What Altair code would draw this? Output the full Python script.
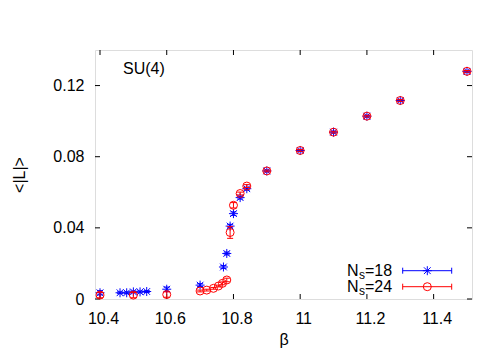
import altair as alt
import pandas as pd

# ---- data ----
beta_18 = [10.40, 10.46, 10.48, 10.50, 10.52, 10.54, 10.60, 10.70, 10.77, 10.78,
           10.79, 10.80, 10.82, 10.84, 10.90, 11.00, 11.10, 11.20, 11.30, 11.50]
L_18 = [0.0035, 0.0035, 0.0035, 0.0040, 0.0040, 0.0042, 0.0055, 0.0078, 0.0180, 0.0256,
        0.0410, 0.0480, 0.0570, 0.0620, 0.0720, 0.0835, 0.0938, 0.1028, 0.1116, 0.1280]
err_18 = [0.0012, 0.0005, 0.0005, 0.0005, 0.0005, 0.0005, 0.0012, 0.0008, 0.0008, 0.0008,
          0.0010, 0.0010, 0.0008, 0.0008, 0.0005, 0.0005, 0.0005, 0.0005, 0.0005, 0.0005]

beta_24 = [10.40, 10.50, 10.60, 10.70, 10.72, 10.74, 10.755, 10.767, 10.78, 10.79,
           10.80, 10.82, 10.84, 10.90, 11.00, 11.10, 11.20, 11.30, 11.50]
L_24 = [0.0022, 0.0022, 0.0025, 0.0045, 0.0050, 0.0060, 0.0073, 0.0088, 0.0107, 0.0374,
        0.0527, 0.0593, 0.0635, 0.0720, 0.0835, 0.0938, 0.1028, 0.1116, 0.1280]
err_24 = [0.0015, 0.0015, 0.0015, 0.0005, 0.0005, 0.0005, 0.0005, 0.0008, 0.0010, 0.0033,
          0.0015, 0.0008, 0.0008, 0.0005, 0.0005, 0.0005, 0.0005, 0.0005, 0.0005]

x_ticks = [10.4, 10.6, 10.8, 11.0, 11.2, 11.4]
y_ticks = [0.0, 0.04, 0.08, 0.12]

series_labels = ["18", "24"]
annotation = "SU(4)"

# ---- layout ----
W, H = 377, 249
X_DOMAIN = [10.385, 11.515]
Y_DOMAIN = [0.0, 0.14]
FONT = "Liberation Sans"
BLUE = "#0000ff"
RED = "#ff0000"
STAR = "M-1,0L1,0M0,-1L0,1M-0.75,-0.75L0.75,0.75M-0.75,0.75L0.75,-0.75"

df18 = pd.DataFrame({"beta": beta_18, "L": L_18, "err": err_18})
df24 = pd.DataFrame({"beta": beta_24, "L": L_24, "err": err_24})
dfx = pd.DataFrame({"v": x_ticks})
dfy = pd.DataFrame({"v": y_ticks})
one = alt.Data(values=[{}])

xs = alt.Scale(domain=X_DOMAIN, nice=False, zero=False)
ys = alt.Scale(domain=Y_DOMAIN, nice=False, zero=False)

xaxis = alt.Axis(values=x_ticks, format=".1~f", title="β", ticks=False, domain=False,
                 grid=False, labelPadding=11, labelOffset=3, labelFontSize=16,
                 labelFont=FONT, labelColor="black", titleFont=FONT, titleFontSize=16,
                 titleFontWeight="normal", titleColor="black", titleY=45,
                 titleBaseline="alphabetic")
yaxis = alt.Axis(values=y_ticks, labelExpr="datum.value == 0 ? '0' : format(datum.value, '.2f')",
                 title="<|L|>", ticks=False, domain=False, grid=False, labelPadding=11,
                 labelFontSize=16, labelFont=FONT, labelColor="black", titleFont=FONT,
                 titleFontSize=16, titleFontWeight="normal", titleColor="black",
                 titleX=-76, titleY=H / 2, titleAngle=-90, titleAlign="center",
                 titleBaseline="middle")

X = lambda f: alt.X(f, type="quantitative", scale=xs, axis=xaxis)
Y = lambda f: alt.Y(f, type="quantitative", scale=ys, axis=yaxis)


def series(df, color, shape, size):
    base = alt.Chart(df).transform_calculate(lo="datum.L - datum.err", hi="datum.L + datum.err")
    bar = base.mark_rule(color=color, strokeWidth=1).encode(x=X("beta"), y=Y("lo"), y2="hi:Q")
    cap_lo = base.mark_tick(orient="horizontal", size=6, thickness=1, color=color, opacity=1).encode(
        x=X("beta"), y=Y("lo"))
    cap_hi = base.mark_tick(orient="horizontal", size=6, thickness=1, color=color, opacity=1).encode(
        x=X("beta"), y=Y("hi"))
    pts = base.mark_point(shape=shape, size=size, filled=False, color=color, strokeWidth=1,
                          opacity=1).encode(x=X("beta"), y=Y("L"))
    return [bar, cap_lo, cap_hi, pts]


# inward ticks on all four sides
TL = 5
ticks = [
    alt.Chart(dfx).mark_rule(color="black").encode(x=X("v"), y=alt.value(H), y2=alt.value(H - TL)),
    alt.Chart(dfx).mark_rule(color="black").encode(x=X("v"), y=alt.value(0), y2=alt.value(TL)),
    alt.Chart(dfy).mark_rule(color="black").encode(y=Y("v"), x=alt.value(0), x2=alt.value(TL)),
    alt.Chart(dfy).mark_rule(color="black").encode(y=Y("v"), x=alt.value(W), x2=alt.value(W - TL)),
]


def legend_row(yc, num, color, shape, size):
    x0, x1, xm = 307.7, 356.7, 332.3
    out = [
        alt.Chart(one).mark_rule(color=color, strokeWidth=1).encode(
            x=alt.value(x0), x2=alt.value(x1), y=alt.value(yc)),
        alt.Chart(one).mark_rule(color=color, strokeWidth=1).encode(
            x=alt.value(x0), y=alt.value(yc - 3), y2=alt.value(yc + 3)),
        alt.Chart(one).mark_rule(color=color, strokeWidth=1).encode(
            x=alt.value(x1), y=alt.value(yc - 3), y2=alt.value(yc + 3)),
        alt.Chart(one).mark_point(shape=shape, size=size, filled=False, color=color,
                                  strokeWidth=1, opacity=1).encode(
            x=alt.value(xm), y=alt.value(yc)),
        alt.Chart(one).mark_text(font=FONT, fontSize=16, align="left", baseline="alphabetic",
                                 color="black").encode(
            x=alt.value(252), y=alt.value(yc + 5.5), text=alt.value("N")),
        alt.Chart(one).mark_text(font=FONT, fontSize=12, align="left", baseline="alphabetic",
                                 color="black").encode(
            x=alt.value(264), y=alt.value(yc + 8.5), text=alt.value("s")),
        alt.Chart(one).mark_text(font=FONT, fontSize=16, align="left", baseline="alphabetic",
                                 color="black").encode(
            x=alt.value(270), y=alt.value(yc + 5.5), text=alt.value("=" + num)),
    ]
    return out


label = alt.Chart(one).mark_text(font=FONT, fontSize=16, align="left", baseline="alphabetic",
                                 color="black").encode(
    x=alt.value(28), y=alt.value(24), text=alt.value(annotation))

layers = (ticks + series(df18, BLUE, STAR, 81) + series(df24, RED, "circle", 64)
          + legend_row(220.7, series_labels[0], BLUE, STAR, 81)
          + legend_row(236.7, series_labels[1], RED, "circle", 64) + [label])

chart = alt.layer(*layers).properties(
    width=W, height=H,
    autosize=alt.AutoSizeParams(type="none"),
    padding={"left": 87, "top": 42, "right": 20, "bottom": 50},
    background="white",
).configure_view(stroke="black", strokeWidth=1).configure(font=FONT)

chart.save("out.html", embed_options={"renderer": "svg", "actions": False})
